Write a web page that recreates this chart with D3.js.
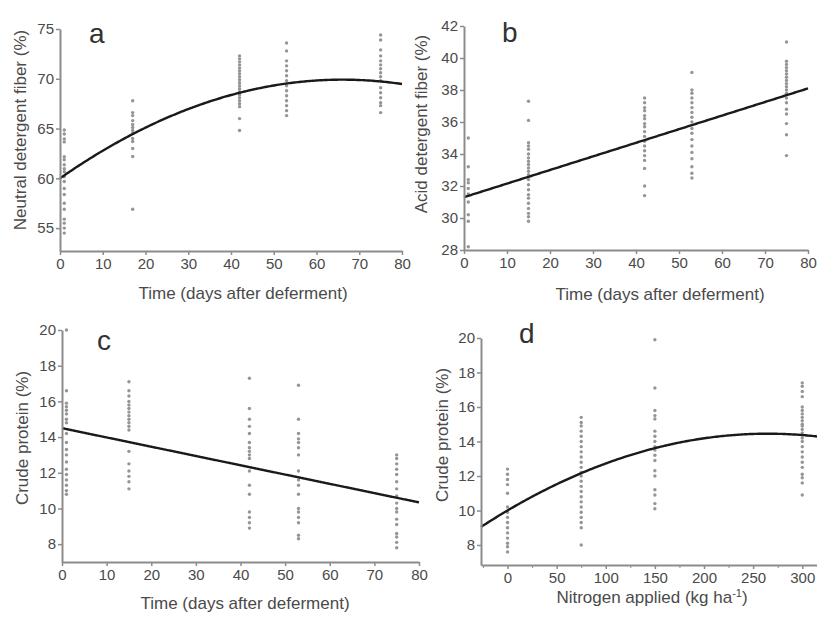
<!DOCTYPE html>
<html>
<head>
<meta charset="utf-8">
<script src="https://cdn.jsdelivr.net/npm/d3@7"></script>
<style>
  html, body { margin: 0; padding: 0; background: #fff; }
  svg { display: block; }
  text { font-family: "Liberation Sans", Arial, sans-serif; }
</style>
</head>
<body>
<svg id="fig" width="817" height="617"></svg>
<script>
// Sampling days for the deferment panels
const daysA = [1, 17, 42, 53, 75];
const daysB = [1, 15, 42, 53, 75];
const daysC = [1, 15, 42, 53, 75];
// Nitrogen rates (kg/ha) for panel d
const nitrogenRates = [0, 75, 150, 300];

// Neutral detergent fiber (%) per sampling day
const ndfValues = [
  [64.85, 64.45, 63.96, 63.66, 62.16, 61.86, 61.36, 60.96, 60.67, 60.17, 59.68, 58.98, 58.38, 57.49, 56.89, 55.9, 55.5, 55.0, 54.5],
  [67.8, 66.6, 66.3, 65.8, 65.4, 65.1, 64.8, 64.5, 64.0, 63.7, 63.0, 62.2, 56.9],
  [72.3, 72.0, 71.7, 71.4, 71.1, 70.8, 70.5, 70.2, 69.9, 69.6, 69.3, 69.0, 68.7, 68.4, 68.1, 67.8, 67.5, 67.2, 66.0, 64.8],
  [73.6, 72.8, 71.8, 71.3, 70.8, 70.3, 69.8, 69.3, 68.8, 68.3, 67.8, 67.3, 66.8, 66.3],
  [74.4, 73.9, 72.9, 72.3, 71.8, 71.4, 71.0, 70.6, 70.2, 69.8, 69.1, 68.6, 68.1, 67.6, 67.3, 66.6]
];

// Acid detergent fiber (%) per sampling day
const adfValues = [
  [35.0, 33.2, 32.4, 32.2, 31.85, 31.5, 31.0, 30.2, 29.8, 28.2],
  [37.3, 36.1, 34.7, 34.5, 34.3, 34.0, 33.76, 33.55, 33.34, 33.13, 32.92, 32.71, 32.4, 32.08, 31.77, 31.45, 31.24, 30.92, 30.6, 30.29, 30.08, 29.8],
  [37.5, 37.2, 36.9, 36.7, 36.4, 36.2, 35.9, 35.7, 35.4, 35.1, 34.8, 34.5, 34.2, 33.9, 33.6, 33.1, 32.0, 31.4],
  [39.1, 38.0, 37.8, 37.5, 37.2, 36.9, 36.6, 36.3, 36.0, 35.6, 35.3, 34.9, 34.5, 34.1, 33.7, 33.2, 32.8, 32.5],
  [41.0, 39.8, 39.6, 39.4, 39.2, 39.0, 38.8, 38.6, 38.4, 38.2, 38.0, 37.8, 37.5, 37.2, 36.8, 36.5, 35.9, 35.2, 33.9]
];

// Crude protein (%) per sampling day
const cpTimeValues = [
  [20.0, 16.6, 15.9, 15.7, 15.5, 15.3, 15.0, 14.8, 14.2, 13.7, 13.3, 13.0, 12.6, 12.2, 11.9, 11.6, 11.3, 11.0, 10.8],
  [17.1, 16.6, 16.3, 16.0, 15.8, 15.6, 15.4, 15.2, 15.0, 14.8, 14.6, 14.4, 13.2, 12.5, 12.1, 11.8, 11.5, 11.1],
  [17.3, 15.6, 15.0, 14.6, 14.2, 13.7, 13.4, 13.2, 13.0, 12.8, 12.1, 11.3, 10.8, 9.8, 9.5, 9.2, 8.9],
  [16.9, 15.0, 14.2, 13.9, 13.7, 13.4, 13.0, 12.1, 11.6, 11.3, 10.8, 10.0, 9.8, 9.5, 9.2, 8.5, 8.3],
  [13.0, 12.8, 12.5, 12.2, 11.9, 11.5, 11.1, 10.7, 10.3, 10.0, 9.8, 9.4, 9.1, 8.6, 8.4, 8.1, 7.8]
];

// Crude protein (%) per nitrogen rate
const cpNitrogenValues = [
  [12.4, 12.1, 11.8, 11.5, 11.0, 10.2, 9.9, 9.6, 9.3, 9.0, 8.7, 8.4, 8.1, 7.9, 7.6],
  [15.4, 15.1, 14.9, 14.6, 14.3, 14.0, 13.7, 13.4, 13.1, 12.8, 12.5, 12.2, 12.0, 11.7, 11.4, 11.1, 10.8, 10.5, 10.2, 9.9, 9.6, 9.3, 9.0, 8.0],
  [19.9, 17.1, 15.8, 15.5, 15.3, 14.6, 14.3, 14.0, 13.7, 13.5, 13.2, 12.9, 12.3, 12.0, 11.2, 10.9, 10.4, 10.1],
  [17.4, 17.2, 16.9, 16.6, 16.0, 15.8, 15.6, 15.4, 15.2, 15.0, 14.9, 14.7, 14.5, 14.2, 14.0, 13.7, 13.4, 13.1, 12.8, 12.5, 12.1, 11.9, 11.6, 10.9]
];

// Fitted regression coefficients [intercept, linear, quadratic]
const fitA = [60.0, 0.300, -0.00227];
const fitB = [31.3, 0.085, 0];
const fitC = [14.5, -0.052, 0];
const fitD = [10.0, 0.0336, -0.0000634];

// Axis tick values
const timeTicks = [0, 10, 20, 30, 40, 50, 60, 70, 80];
const ndfTicks = [55, 60, 65, 70, 75];
const adfTicks = [28, 30, 32, 34, 36, 38, 40, 42];
const cpTicks = [8, 10, 12, 14, 16, 18, 20];
const nitrogenTicks = [0, 50, 100, 150, 200, 250, 300];
const nitrogenMinorTicks = [-25, 25, 75, 125, 175, 225, 275];

const svg = d3.select("#fig");
const AXIS_COLOR = "#8c8c8c";
const TEXT_COLOR = "#4a4a4a";
const POINT_COLOR = "#959595";

function drawPanel(cfg) {
  const g = svg.append("g");
  const x = d3.scaleLinear().domain(cfg.xDomain).range(cfg.xRange);
  const y = d3.scaleLinear().domain(cfg.yDomain).range(cfg.yRange);

  // points
  const pts = [];
  cfg.xs.forEach((xv, i) => cfg.values[i].forEach(v => pts.push([xv, v])));
  g.append("g").selectAll("circle").data(pts).join("circle")
    .attr("cx", d => x(d[0])).attr("cy", d => y(d[1]))
    .attr("r", 1.7).attr("fill", POINT_COLOR);

  // fitted curve
  const f = cfg.fit;
  const xsLine = d3.range(0, 201).map(i => cfg.xDomain[0] + (cfg.xDomain[1] - cfg.xDomain[0]) * i / 200);
  const line = d3.line().x(d => x(d)).y(d => y(f[0] + f[1] * d + f[2] * d * d));
  g.append("path").datum(xsLine.filter(d => d >= cfg.fitStart))
    .attr("d", line).attr("fill", "none").attr("stroke", "#1a1a1a").attr("stroke-width", 2.4);

  // axes
  const xAxis = d3.axisBottom(x).tickValues(cfg.xTicks).tickSize(4).tickSizeOuter(0).tickPadding(3);
  const xg = g.append("g").attr("transform", `translate(0,${cfg.yRange[0]})`).call(xAxis);
  if (cfg.xMinor) {
    const minor = d3.axisBottom(x).tickValues(cfg.xMinor).tickSize(3).tickFormat("");
    g.append("g").attr("transform", `translate(0,${cfg.yRange[0]})`).call(minor)
      .call(s => s.select(".domain").remove());
  }
  const yAxis = d3.axisLeft(y).tickValues(cfg.yTicks).tickSize(4).tickSizeOuter(0).tickPadding(2);
  const yg = g.append("g").attr("transform", `translate(${cfg.xRange[0]},0)`).call(yAxis);

  [xg, yg].forEach(a => {
    a.select(".domain").attr("stroke", AXIS_COLOR).attr("stroke-width", 2);
    a.selectAll(".tick line").attr("stroke", AXIS_COLOR).attr("stroke-width", 1.5);
    a.selectAll(".tick text").attr("fill", TEXT_COLOR).style("font-size", "15px")
      .style("font-family", "'Liberation Sans', Arial, sans-serif");
  });
  g.selectAll(".tick line").attr("stroke", AXIS_COLOR);

  // titles
  g.append("text").attr("x", cfg.xTitle[0]).attr("y", cfg.xTitle[1])
    .attr("text-anchor", "middle").attr("dy", "0.35em")
    .attr("fill", TEXT_COLOR).style("font-size", "17px").html(cfg.xLabel);
  g.append("text").attr("transform", `translate(${cfg.yTitle[0]},${cfg.yTitle[1]}) rotate(-90)`)
    .attr("text-anchor", "middle").attr("dy", "0.35em")
    .attr("fill", TEXT_COLOR).style("font-size", "17px").text(cfg.yLabel);
  g.append("text").attr("x", cfg.letterPos[0]).attr("y", cfg.letterPos[1])
    .attr("fill", "#333").style("font-size", "28px").text(cfg.letter);
}

drawPanel({
  letter: "a", letterPos: [89, 43],
  xs: daysA, values: ndfValues, fit: fitA, fitStart: 0,
  xDomain: [0, 80], xRange: [60, 402], yDomain: [52.7, 75], yRange: [251, 29],
  xTicks: timeTicks, yTicks: ndfTicks,
  xLabel: "Time (days after deferment)", xTitle: [243, 293],
  yLabel: "Neutral detergent fiber (%)", yTitle: [20, 130]
});

drawPanel({
  letter: "b", letterPos: [502, 42],
  xs: daysB, values: adfValues, fit: fitB, fitStart: 0,
  xDomain: [0, 80], xRange: [464, 808], yDomain: [28, 42], yRange: [250, 26],
  xTicks: timeTicks, yTicks: adfTicks,
  xLabel: "Time (days after deferment)", xTitle: [660, 294],
  yLabel: "Acid detergent fiber (%)", yTitle: [421, 124]
});

drawPanel({
  letter: "c", letterPos: [97, 350],
  xs: daysC, values: cpTimeValues, fit: fitC, fitStart: 0,
  xDomain: [0, 80], xRange: [62, 419], yDomain: [7, 20], yRange: [562, 330],
  xTicks: timeTicks, yTicks: cpTicks,
  xLabel: "Time (days after deferment)", xTitle: [245, 603],
  yLabel: "Crude protein (%)", yTitle: [22, 438]
});

drawPanel({
  letter: "d", letterPos: [519, 343],
  xs: nitrogenRates, values: cpNitrogenValues, fit: fitD, fitStart: -27,
  xDomain: [-27, 315], xRange: [481, 817], yDomain: [6.84, 20], yRange: [565, 338],
  xTicks: nitrogenTicks, xMinor: nitrogenMinorTicks, yTicks: cpTicks,
  xLabel: "Nitrogen applied (kg ha<tspan dy='-6' font-size='11px'>-1</tspan><tspan dy='6'>)</tspan>", xTitle: [652, 597],
  yLabel: "Crude protein (%)", yTitle: [442, 435]
});
</script>
</body>
</html>
